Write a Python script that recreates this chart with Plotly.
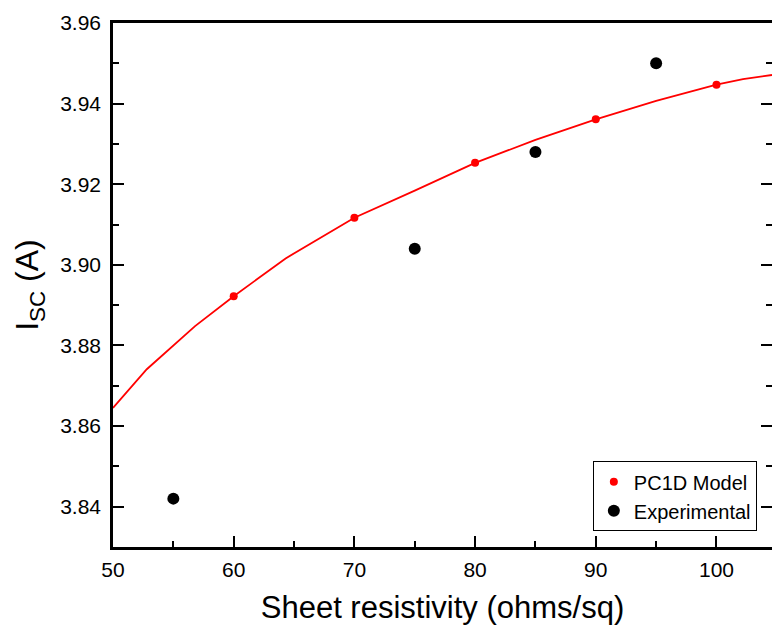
import plotly.graph_objects as go

# Data
model_x = [60, 70, 80, 90, 100]
model_y = [3.8922, 3.9117, 3.9253, 3.9361, 3.9447]

curve_x = [50, 52.8, 56.8, 60, 64.3, 70, 75, 80, 85, 90, 95, 100, 102.2, 104.6]
curve_y = [3.8645, 3.8741, 3.8848, 3.8922, 3.9016, 3.9117, 3.9184, 3.9253, 3.9310,
           3.9361, 3.9407, 3.9447, 3.9461, 3.9471]

exp_x = [55, 75, 85, 95]
exp_y = [3.842, 3.904, 3.928, 3.950]

x_ticks = [50, 60, 70, 80, 90, 100]
y_ticks = [3.84, 3.86, 3.88, 3.90, 3.92, 3.94, 3.96]
y_tick_labels = ["3.84", "3.86", "3.88", "3.90", "3.92", "3.94", "3.96"]

FONT = "Liberation Sans, Arial, sans-serif"

fig = go.Figure()
fig.add_trace(go.Scatter(x=curve_x, y=curve_y, mode="lines",
                         line=dict(color="#ff0000", width=1.8),
                         showlegend=False, hoverinfo="skip"))
fig.add_trace(go.Scatter(x=model_x, y=model_y, mode="markers", name="PC1D Model",
                         marker=dict(color="#ff0000", size=8)))
fig.add_trace(go.Scatter(x=exp_x, y=exp_y, mode="markers", name="Experimental",
                         marker=dict(color="#000000", size=12)))
# empty trace to anchor the right-hand tick axis
fig.add_trace(go.Scatter(x=[], y=[], yaxis="y2", showlegend=False, hoverinfo="skip"))

fig.update_layout(
    width=772, height=625,
    margin=dict(l=113, r=0, t=23, b=78, autoexpand=False),
    paper_bgcolor="white", plot_bgcolor="white",
    font=dict(family=FONT, color="black"),
    showlegend=True,
    legend=dict(x=0.977, y=0.03, xanchor="right", yanchor="bottom",
                bordercolor="black", borderwidth=1, bgcolor="white",
                font=dict(size=20, family=FONT), tracegroupgap=0,
                itemsizing="trace"),
    xaxis=dict(range=[50, 104.6], tickvals=x_ticks, showgrid=False, zeroline=False,
               automargin=False,
               showline=True, linecolor="black", linewidth=2.5, mirror=True,
               ticks="inside", ticklen=11, tickwidth=2, tickcolor="black",
               minor=dict(dtick=5, tick0=50, ticks="inside", ticklen=6, tickwidth=2,
                          tickcolor="black", showgrid=False),
               tickfont=dict(size=21, family=FONT), ticklabelstandoff=2,
               title=dict(text="Sheet resistivity (ohms/sq)", font=dict(size=31, family=FONT),
                          standoff=20)),
    yaxis=dict(range=[3.83, 3.96], tickvals=y_ticks, ticktext=y_tick_labels,
               showgrid=False, zeroline=False, automargin=False,
               showline=True, linecolor="black", linewidth=2.5,
               ticks="inside", ticklen=11, tickwidth=2, tickcolor="black",
               minor=dict(dtick=0.01, tick0=3.83, ticks="inside", ticklen=6, tickwidth=2,
                          tickcolor="black", showgrid=False),
               tickfont=dict(size=21, family=FONT), ticklabelstandoff=5,
               title=dict(text="I<sub>SC</sub> (A)", font=dict(size=32, family=FONT),
                          standoff=12)),
    yaxis2=dict(range=[3.83, 3.96], overlaying="y", side="right", tickvals=y_ticks,
                showticklabels=False, showgrid=False, zeroline=False, showline=False,
                automargin=False,
                ticks="inside", ticklen=11, tickwidth=2, tickcolor="black",
                minor=dict(dtick=0.01, tick0=3.83, ticks="inside", ticklen=6, tickwidth=2,
                           tickcolor="black", showgrid=False)),
)

fig.write_html("out.html", config={"displayModeBar": False},
               post_script="document.body.style.margin='0';document.body.style.padding='0';")
